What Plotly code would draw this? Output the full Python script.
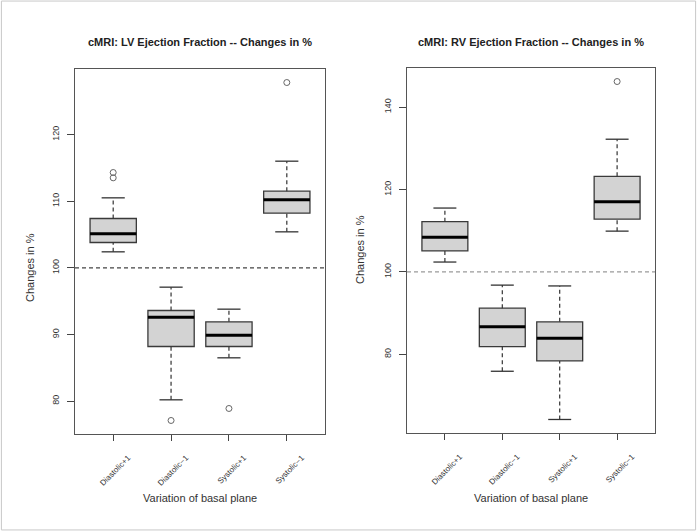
import plotly.graph_objects as go

categories = ["Diastolic+1", "Diastolic\u22121", "Systolic+1", "Systolic\u22121"]

# LV ejection fraction (changes in %)
lv_q1 = [103.8, 88.2, 88.2, 108.2]
lv_median = [105.1, 92.6, 89.9, 110.2]
lv_q3 = [107.4, 93.6, 91.9, 111.5]
lv_lower_whisker = [102.4, 80.2, 86.5, 105.4]
lv_upper_whisker = [110.5, 97.1, 93.8, 116.0]
lv_outliers = [[114.3, 113.5], [77.1], [78.9], [127.8]]

# RV ejection fraction (changes in %)
rv_q1 = [105.1, 81.9, 78.4, 112.8]
rv_median = [108.4, 86.7, 83.9, 117.0]
rv_q3 = [112.2, 91.2, 87.9, 123.2]
rv_lower_whisker = [102.4, 75.9, 64.2, 109.9]
rv_upper_whisker = [115.5, 96.8, 96.6, 132.2]
rv_outliers = [[], [], [], [146.2]]

lv_ticks = [80, 90, 100, 110, 120]
rv_ticks = [80, 100, 120, 140]

FONT = "Liberation Sans, Arial, sans-serif"
BOX_W = 0.8
CAP_HALF = 0.2
POS = [1, 2, 3, 4]

fig = go.Figure()


def add_panel(xa, ya, q1, med, q3, lw, uw, outl):
    # boxes
    fig.add_trace(go.Box(
        x=POS, q1=q1, median=med, q3=q3, lowerfence=q1, upperfence=q3,
        width=BOX_W, whiskerwidth=0, fillcolor="#d3d3d3",
        line=dict(color="#3a3a3a", width=1.3), boxpoints=False,
        xaxis=xa, yaxis=ya, showlegend=False, hoverinfo="skip"))
    # whiskers (dashed)
    wx, wy = [], []
    for p, a, b, c, d in zip(POS, q1, q3, lw, uw):
        wx += [p, p, None, p, p, None]
        wy += [b, d, None, c, a, None]
    fig.add_trace(go.Scatter(x=wx, y=wy, mode="lines",
                             line=dict(color="#333333", width=1.2, dash="4px,3px"),
                             xaxis=xa, yaxis=ya, showlegend=False, hoverinfo="skip"))
    # caps
    cx, cy = [], []
    for p, c, d in zip(POS, lw, uw):
        cx += [p - CAP_HALF, p + CAP_HALF, None, p - CAP_HALF, p + CAP_HALF, None]
        cy += [c, c, None, d, d, None]
    fig.add_trace(go.Scatter(x=cx, y=cy, mode="lines",
                             line=dict(color="#333333", width=1.3),
                             xaxis=xa, yaxis=ya, showlegend=False, hoverinfo="skip"))
    # medians
    mx, my = [], []
    for p, m in zip(POS, med):
        mx += [p - BOX_W / 2, p + BOX_W / 2, None]
        my += [m, m, None]
    fig.add_trace(go.Scatter(x=mx, y=my, mode="lines",
                             line=dict(color="#000000", width=3),
                             xaxis=xa, yaxis=ya, showlegend=False, hoverinfo="skip"))
    # outliers
    ox, oy = [], []
    for p, vals in zip(POS, outl):
        for v in vals:
            ox.append(p)
            oy.append(v)
    fig.add_trace(go.Scatter(x=ox, y=oy, mode="markers",
                             marker=dict(symbol="circle-open", size=6,
                                         color="#666666", line=dict(width=1)),
                             xaxis=xa, yaxis=ya, showlegend=False, hoverinfo="skip"))


add_panel("x", "y", lv_q1, lv_median, lv_q3, lv_lower_whisker, lv_upper_whisker, lv_outliers)
add_panel("x2", "y2", rv_q1, rv_median, rv_q3, rv_lower_whisker, rv_upper_whisker, rv_outliers)


def yrange(lw, uw, outl):
    vals = lw + uw + [v for o in outl for v in o]
    lo, hi = min(vals), max(vals)
    pad = (hi - lo) * 0.04
    return [lo - pad, hi + pad]


xcommon = dict(range=[0.34, 4.66], tickmode="array", tickvals=POS, ticktext=categories,
               tickangle=-45, ticks="outside", ticklen=6, tickcolor="#444",
               ticklabelstandoff=9, ticklabelshift=15,
               showline=True, linecolor="#555", linewidth=1, mirror=True,
               showgrid=False, zeroline=False,
               tickfont=dict(family=FONT, size=8, color="#333"))
ycommon = dict(ticks="outside", ticklen=7, tickcolor="#444", tickangle=-90,
               ticklabelstandoff=4,
               showline=True, linecolor="#555", linewidth=1, mirror=True,
               showgrid=False, zeroline=False, tickmode="array",
               tickfont=dict(family=FONT, size=9, color="#333"))

fig.update_layout(
    width=697, height=531,
    margin=dict(l=0, r=0, t=0, b=0),
    paper_bgcolor="white", plot_bgcolor="white",
    xaxis=dict(domain=[75 / 697, 325 / 697], anchor="y", **xcommon),
    yaxis=dict(domain=[97 / 531, 462 / 531], anchor="x",
               range=yrange(lv_lower_whisker, lv_upper_whisker, lv_outliers),
               tickvals=lv_ticks, ticktext=[str(t) for t in lv_ticks], **ycommon),
    xaxis2=dict(domain=[407 / 697, 655 / 697], anchor="y2", **xcommon),
    yaxis2=dict(domain=[98 / 531, 463 / 531], anchor="x2",
                range=yrange(rv_lower_whisker, rv_upper_whisker, rv_outliers),
                tickvals=rv_ticks, ticktext=[str(t) for t in rv_ticks], **ycommon),
    shapes=[
        dict(type="line", xref="x domain", yref="y", x0=0, x1=1, y0=100, y1=100,
             line=dict(color="#444444", width=1.3, dash="4px,3px"), layer="below"),
        dict(type="line", xref="x2 domain", yref="y2", x0=0, x1=1, y0=100, y1=100,
             line=dict(color="#9a9a9a", width=1.3, dash="4px,3px"), layer="below"),
        dict(type="rect", xref="paper", yref="paper", x0=0.002, x1=0.998, y0=0.002, y1=0.998,
             line=dict(color="#c8c8c8", width=1)),
    ],
    annotations=[
        dict(text="<b>cMRI: LV Ejection Fraction -- Changes in %</b>", xref="paper", yref="paper",
             x=200 / 697, y=1 - 42 / 531, showarrow=False, xanchor="center", yanchor="middle",
             font=dict(family=FONT, size=11, color="#222")),
        dict(text="<b>cMRI: RV Ejection Fraction -- Changes in %</b>", xref="paper", yref="paper",
             x=531 / 697, y=1 - 42 / 531, showarrow=False, xanchor="center", yanchor="middle",
             font=dict(family=FONT, size=11, color="#222")),
        dict(text="Changes in %", xref="paper", yref="paper", x=30 / 697, y=1 - 268 / 531,
             textangle=-90, showarrow=False, xanchor="center", yanchor="middle",
             font=dict(family=FONT, size=11, color="#333")),
        dict(text="Changes in %", xref="paper", yref="paper", x=360 / 697, y=1 - 250 / 531,
             textangle=-90, showarrow=False, xanchor="center", yanchor="middle",
             font=dict(family=FONT, size=11, color="#333")),
        dict(text="Variation of basal plane", xref="paper", yref="paper", x=200 / 697, y=1 - 498 / 531,
             showarrow=False, xanchor="center", yanchor="middle",
             font=dict(family=FONT, size=11, color="#333")),
        dict(text="Variation of basal plane", xref="paper", yref="paper", x=531 / 697, y=1 - 498 / 531,
             showarrow=False, xanchor="center", yanchor="middle",
             font=dict(family=FONT, size=11, color="#333")),
    ],
)

fig.write_html("out.html", config={"displayModeBar": False},
               post_script="document.body.style.margin='0';document.body.style.overflow='hidden';")
